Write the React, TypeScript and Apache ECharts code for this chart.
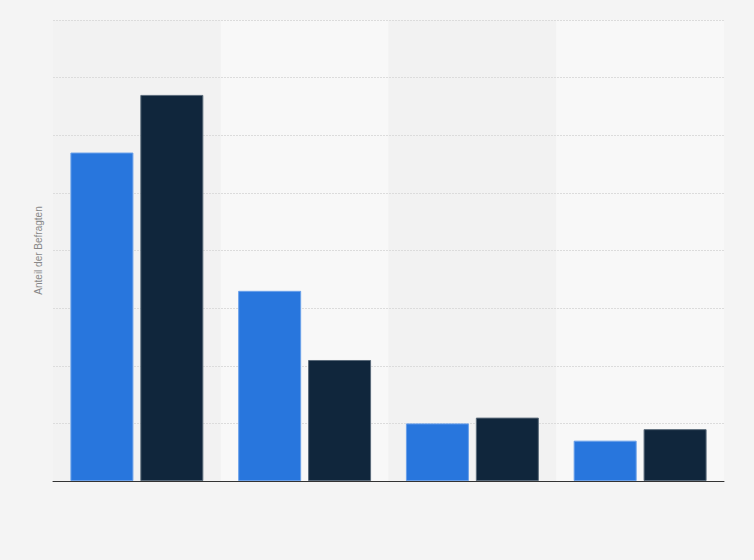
import React, { useEffect, useRef } from "react";
import * as echarts from "echarts";

// Kategorien (Beschriftungen sind im Original nicht sichtbar)
const categories = ["A", "B", "C", "D"];
// Anteil der Befragten in %
const seriesOne = [57, 33, 10, 7];
const seriesTwo = [67, 21, 11, 9];

const App = () => {
  const chartRef = useRef<HTMLDivElement>(null);

  useEffect(() => {
    const chart = echarts.init(chartRef.current, null, { renderer: "svg" });

    chart.setOption({
      animation: false,
      backgroundColor: "#f4f4f4",
      grid: { left: 53, right: 30, top: 20, bottom: 79 },
      xAxis: [
        {
          // nur Hintergrundstreifen
          type: "category",
          data: categories,
          z: 0,
          axisLabel: { show: false },
          axisTick: { show: false },
          axisLine: { show: false },
          splitArea: {
            show: true,
            areaStyle: { color: ["#f2f2f2", "#f8f8f8"] },
          },
        },
        {
          // Achsenlinie über den Gitterlinien
          type: "category",
          data: categories,
          position: "bottom",
          z: 4,
          axisLabel: { show: false },
          axisTick: { show: false },
          axisLine: { lineStyle: { color: "#333", width: 1 } },
        },
      ],
      yAxis: {
        type: "value",
        min: 0,
        max: 80,
        interval: 10,
        z: 1,
        name: "Anteil der Befragten",
        nameLocation: "middle",
        nameGap: 10,
        nameTextStyle: { color: "#888", fontSize: 10, fontFamily: "Liberation Sans" },
        axisLabel: { show: false },
        axisTick: { show: false },
        axisLine: { show: false },
        splitLine: { lineStyle: { color: "#dcdcdc", type: [2, 1], width: 1 } },
      },
      series: [
        {
          name: "Serie 1",
          type: "bar",
          data: seriesOne,
          barWidth: 63,
          barGap: "11%",
          z: 3,
          itemStyle: { color: "#2876dd", borderColor: "#6aa0ea", borderWidth: 1 },
        },
        {
          name: "Serie 2",
          type: "bar",
          data: seriesTwo,
          barWidth: 63,
          z: 3,
          itemStyle: { color: "#10263c", borderColor: "#5a6a7a", borderWidth: 1 },
        },
      ],
    });

    return () => chart.dispose();
  }, []);

  return (
    <div
      ref={chartRef}
      style={{ position: "fixed", left: 0, top: 0, width: "754px", height: "560px" }}
    />
  );
};

export default App;
